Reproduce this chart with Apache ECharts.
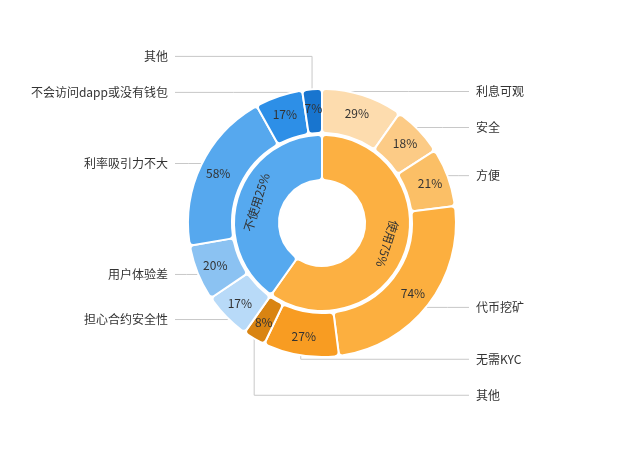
<!DOCTYPE html>
<html><head><meta charset="utf-8">
<script src="https://cdn.jsdelivr.net/npm/echarts@6/dist/echarts.min.js"></script>
<style>html,body{margin:0;padding:0;background:#fff}#c{width:640px;height:449px}</style>
</head><body><div id="c"></div>
<script>
// ---- data ----
const groupNames = ['使用', '不使用'];
const groupShares = [75, 25];
const usedNames = ['利息可观', '安全', '方便', '代币挖矿', '无需KYC', '其他'];
const usedValues = [29, 18, 21, 74, 27, 8];
const unusedNames = ['担心合约安全性', '用户体验差', '利率吸引力不大', '不会访问dapp或没有钱包', '其他'];
const unusedValues = [17, 20, 58, 17, 7];

// ---- styles / layout ----
const groupColors = ['#FCB042', '#56A9EF'];
const usedColors = ['#FDDCAE', '#FCCB86', '#FBBF66', '#FCAF3F', '#F89C22', '#D98412'];
const unusedColors = ['#B8DAF8', '#8BC2F2', '#56A8EE', '#2D8FE7', '#1875CF'];
const CX = 322, CY = 223;
const R_IN0 = 43, R_IN1 = 88, R_OUT0 = 90, R_OUT1 = 134;
const FONT = '"Noto Sans CJK SC", "Noto Sans", sans-serif';

const sum = a => a.reduce((s, v) => s + v, 0);
const groupValues = [sum(usedValues), sum(unusedValues)];
const total = sum(groupValues);
const outerNames = usedNames.concat(unusedNames);
const outerValues = usedValues.concat(unusedValues);
const outerColors = usedColors.concat(unusedColors);
const outerSide = usedNames.map(() => 1).concat(unusedNames.map(() => -1));

let acc = 0;
const slices = outerValues.map(v => { const s = acc / total * 360; acc += v; return { s: s, e: acc / total * 360 }; });
let acc2 = 0;
const innerMid = groupValues.map(v => { const m = (acc2 + v / 2) / total * 360; acc2 += v; return m; });

// label vertical placement: slice mid-angle, then spread apart
const LR = R_OUT1 + 4, GAP = 36;
const labelY = slices.map(sl => CY - LR * Math.cos((sl.s + sl.e) / 2 * Math.PI / 180));
function spread(order) {
  for (let k = 1; k < order.length; k++) {
    const i = order[k], p = order[k - 1];
    if (labelY[i] >= CY) labelY[i] = Math.max(labelY[i], labelY[p] + GAP);
  }
  for (let k = order.length - 2; k >= 0; k--) {
    const i = order[k], n = order[k + 1];
    if (labelY[i] < CY) labelY[i] = Math.min(labelY[i], labelY[n] - GAP);
  }
}
const rightOrder = usedNames.map((_, i) => i);
const leftOrder = unusedNames.map((_, i) => usedNames.length + i).reverse();
spread(rightOrder);
spread(leftOrder);

const chart = echarts.init(document.getElementById('c'), null, { renderer: 'canvas' });
chart.setOption({
  backgroundColor: '#fff',
  animation: false,
  series: [
    {
      type: 'pie',
      center: [CX, CY],
      radius: [R_IN0, R_IN1],
      startAngle: 90,
      clockwise: true,
      silent: true,
      itemStyle: { borderColor: '#fff', borderWidth: 2, borderRadius: 4 },
      label: {
        show: true, position: 'inside', color: '#333', fontSize: 12, fontFamily: FONT,
        formatter: p => groupNames[p.dataIndex] + groupShares[p.dataIndex] + '%'
      },
      labelLine: { show: false },
      data: groupNames.map((n, i) => ({
        name: n, value: groupValues[i],
        itemStyle: { color: groupColors[i] },
        label: { rotate: -innerMid[i] }
      }))
    },
    {
      type: 'pie',
      center: [CX, CY],
      radius: [R_OUT0, R_OUT1],
      startAngle: 90,
      clockwise: true,
      silent: true,
      itemStyle: { borderColor: '#fff', borderWidth: 2, borderRadius: 4 },
      label: {
        show: true, position: 'inside', color: '#333', fontSize: 12, fontFamily: FONT,
        formatter: '{c}%'
      },
      labelLine: { show: false },
      data: outerNames.map((n, i) => ({ name: n, value: outerValues[i], itemStyle: { color: outerColors[i] } }))
    },
    {
      type: 'pie',
      center: [CX, CY],
      radius: [R_OUT0, R_OUT1],
      startAngle: 90,
      clockwise: true,
      silent: true,
      avoidLabelOverlap: false,
      itemStyle: { color: 'rgba(0,0,0,0)', borderWidth: 0 },
      label: {
        show: true, position: 'outside', color: '#333', fontSize: 12, fontFamily: FONT,
        formatter: '{b}'
      },
      labelLine: { show: true, length: 10, length2: 10, lineStyle: { color: '#C8C8C8', width: 1 } },
      labelLayout: function (p) {
        const i = p.dataIndex, side = outerSide[i], y = labelY[i];
        const xEnd = CX + side * (R_OUT1 + 13), xText = CX + side * (R_OUT1 + 20);
        const sl = slices[i], dy = y - CY;
        let pts = null;
        if (Math.abs(dy) < R_OUT1) {
          const xa = CX + side * Math.sqrt(R_OUT1 * R_OUT1 - dy * dy);
          let th = Math.atan2(xa - CX, -dy) * 180 / Math.PI;
          if (th < 0) th += 360;
          if (th >= sl.s && th <= sl.e) pts = [[xa, y], [(xa + xEnd) / 2, y], [xEnd, y]];
        }
        if (!pts) {
          const m = (sl.s + sl.e) / 2 * Math.PI / 180;
          const px = CX + R_OUT1 * Math.sin(m), py = CY - R_OUT1 * Math.cos(m);
          pts = [[px, py], [px, y], [xEnd, y]];
        }
        return { x: xText, y: y, align: side > 0 ? 'left' : 'right', verticalAlign: 'middle', labelLinePoints: pts };
      },
      data: outerNames.map((n, i) => ({ name: n, value: outerValues[i] }))
    }
  ]
});
</script></body></html>
